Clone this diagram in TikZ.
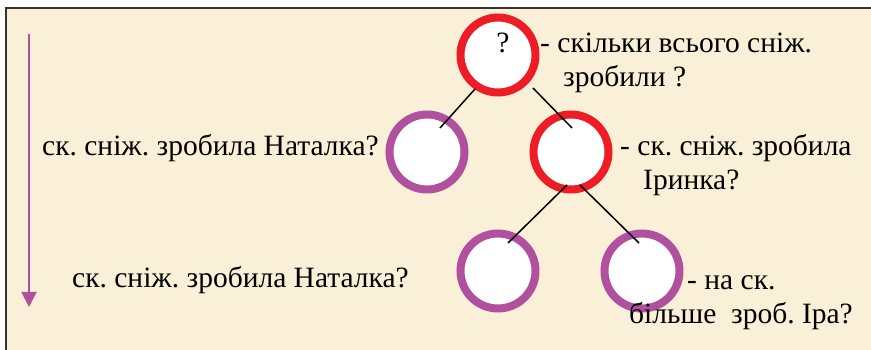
\documentclass[tikz,border=0pt]{standalone}
\usepackage{fontspec}
\setmainfont{Liberation Serif}
\frenchspacing
\usetikzlibrary{arrows.meta,calc}
\definecolor{ringred}{HTML}{EE1C25}
\definecolor{ringpurple}{HTML}{B0509F}
\definecolor{parch}{HTML}{FAF0D8}
\definecolor{framegray}{HTML}{333333}
\begin{document}
\begin{tikzpicture}[x=1pt,y=1pt,
  ring/.style={circle,draw,fill=white,line width=8pt,minimum size=75pt,inner sep=0pt},
  redring/.style={ring,draw=ringred},
  purplering/.style={ring,draw=ringpurple},
  txt/.style={anchor=base west,inner sep=0pt,font=\rmfamily\fontsize{29.5}{34}\selectfont},
  branch/.style={line width=1.5pt}]
  \useasboundingbox[fill=white] (0,0) rectangle (871,350);
  \fill[parch] (6,0) rectangle (871,342);
  \draw[framegray,line width=2pt] (6,-2) -- (6,342) -- (873,342);
  \draw[ringpurple,line width=2pt,-{Triangle[width=15pt,length=15pt]}] (29,316) -- (29,43);
  \node[redring] (root) at (498,295) {};
  \node[purplering] (nat) at (427,198) {};
  \node[redring] (ira) at (571,198) {};
  \node[purplering] (natb) at (498,79) {};
  \node[purplering] (diff) at (642,79) {};
  \draw[branch] ($(root)+(-23,-34)$) -- ($(nat)+(13,24)$);
  \draw[branch] ($(root)+(35,-33)$) -- ($(ira)+(1,24)$);
  \draw[branch] ($(ira)+(-4,-33)$) -- ($(natb)+(10,28)$);
  \draw[branch] ($(ira)+(9,-33)$) -- ($(diff)+(-3,28)$);
  \node[txt,anchor=base] (qmark) at ($(root)+(5,2)$) {?};
  \node[txt] (total1) at (540,297) {- скільки всього сніж.};
  \node[txt] (total2) at (563,263) {зробили ?};
  \node[txt] (irina1) at (620,194) {- ск. сніж. зробила};
  \node[txt] (irina2) at (643,160) {Іринка?};
  \node[txt] (more1) at (687,60) {- на ск.};
  \node[txt] (more2) at (629,26) {більше\ \ зроб. Іра?};
  \node[txt] (natq1) at (42,194) {ск. сніж. зробила Наталка?};
  \node[txt] (natq2) at (72,62) {ск. сніж. зробила Наталка?};
\end{tikzpicture}
\end{document}
